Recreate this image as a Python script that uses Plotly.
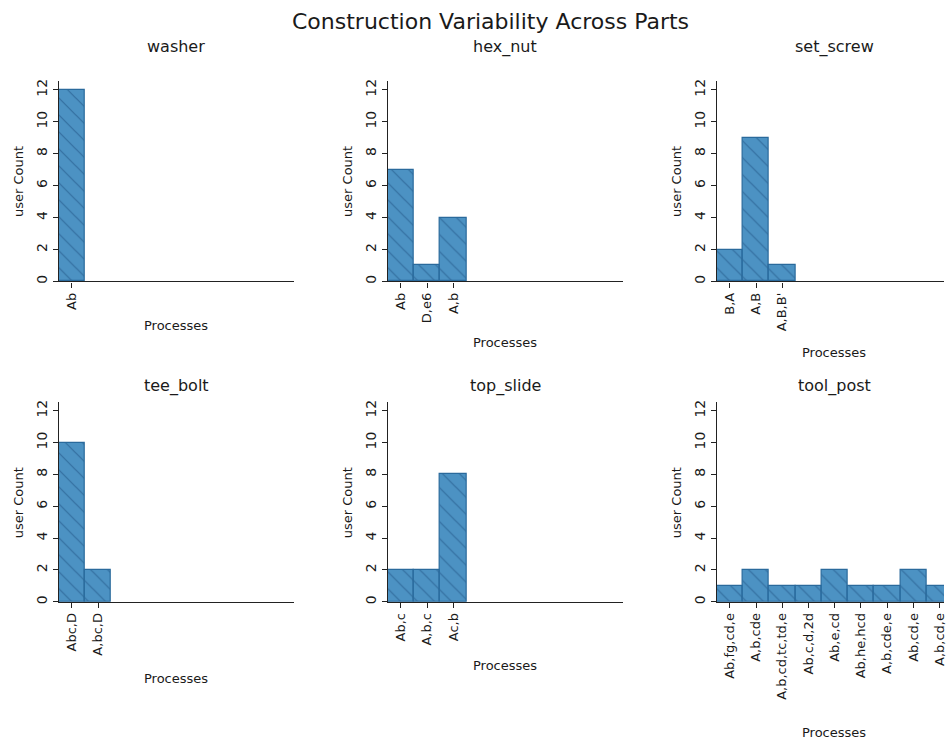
import plotly.graph_objects as go

W, H = 947, 744

parts = ["washer", "hex_nut", "set_screw", "tee_bolt", "top_slide", "tool_post"]

washer_proc = ["Ab"]
washer_cnt = [12]
hex_nut_proc = ["Ab", "D,e6", "A,b"]
hex_nut_cnt = [7, 1, 4]
set_screw_proc = ["B,A", "A,B", "A,B,B'"]
set_screw_cnt = [2, 9, 1]
tee_bolt_proc = ["Abc,D", "A,bc,D"]
tee_bolt_cnt = [10, 2]
top_slide_proc = ["Ab,c", "A,b,c", "Ac,b"]
top_slide_cnt = [2, 2, 8]
tool_post_proc = ["Ab,fg,cd,e", "A,b,cde", "A,b,cd,tc,td,e", "Ab,c,d,2d", "Ab,e,cd",
                  "Ab,he,hcd", "A,b,cde,e", "Ab,cd,e", "A,b,cd,e"]
tool_post_cnt = [1, 2, 1, 1, 2, 1, 1, 2, 1]

y_ticks = [0, 2, 4, 6, 8, 10, 12]

data = [
    (washer_proc, washer_cnt), (hex_nut_proc, hex_nut_cnt), (set_screw_proc, set_screw_cnt),
    (tee_bolt_proc, tee_bolt_cnt), (top_slide_proc, top_slide_cnt), (tool_post_proc, tool_post_cnt),
]

FONT = "DejaVu Sans"
TXT = "#1a1a1a"

# pixel layout
col_x0 = [59, 389, 719]
col_x1 = [295, 625, 947]
row_y0 = [281, 603]        # zero baseline (px from top)
row_y12 = [88.3, 411]      # tick 12 position
ytop_val = 12.55
unit_x = 26.3              # px per category

fig = go.Figure()
layout = {}
annotations = []

xtitle_y = [325, 342, 352, 680, 667, 734]

for i, (name, (procs, cnts)) in enumerate(zip(parts, data)):
    r, c = divmod(i, 3)
    idx = "" if i == 0 else str(i + 1)
    xa, ya = "x" + idx, "y" + idx
    fig.add_trace(go.Bar(
        x=procs, y=cnts, xaxis=xa, yaxis=ya, width=1.0,
        marker=dict(
            color="rgba(31,119,180,0.80)",
            line=dict(color="#2a6a9c", width=1.2),
            pattern=dict(shape="\\", fgcolor="#2d6798", fgopacity=0.85,
                         bgcolor="rgba(31,119,180,0.80)", size=12, solidity=0.1),
        ),
        showlegend=False, hoverinfo="x+y",
    ))
    x0, x1 = col_x0[c], col_x1[c]
    y0 = row_y0[r]
    unit_px = (y0 - row_y12[r]) / 12.0
    ytop = y0 - ytop_val * unit_px
    xmax = -0.5 + (x1 - x0) / unit_x
    layout["xaxis" + idx] = dict(
        domain=[x0 / W, x1 / W], anchor=ya, type="category",
        range=[-0.5, xmax], showline=True, linecolor="#222", linewidth=1.2,
        ticks="outside", ticklen=5, tickcolor="#222", tickangle=-90,
        tickfont=dict(family=FONT, size=13, color=TXT), showgrid=False,
        zeroline=False, fixedrange=True,
    )
    layout["yaxis" + idx] = dict(
        domain=[1 - y0 / H, 1 - ytop / H], anchor=xa, range=[0, ytop_val],
        tickvals=y_ticks, showline=True, linecolor="#222", linewidth=1.2,
        ticks="outside", ticklen=5, tickcolor="#222", tickangle=-90,
        tickfont=dict(family=FONT, size=14, color=TXT), showgrid=False,
        zeroline=False, fixedrange=True,
    )
    cx = x0 + 118
    # subplot title
    annotations.append(dict(text=name, x=cx / W, y=1 - (45 if r == 0 else 386) / H,
                            xref="paper", yref="paper", showarrow=False,
                            xanchor="center", yanchor="middle",
                            font=dict(family=FONT, size=16, color=TXT)))
    # x title
    annotations.append(dict(text="Processes", x=cx / W, y=1 - xtitle_y[i] / H,
                            xref="paper", yref="paper", showarrow=False,
                            xanchor="center", yanchor="middle",
                            font=dict(family=FONT, size=13, color=TXT)))
    # y title
    annotations.append(dict(text="user Count", x=(x0 - 41) / W, y=1 - (180 if r == 0 else 503) / H,
                            xref="paper", yref="paper", showarrow=False, textangle=-90,
                            xanchor="center", yanchor="middle",
                            font=dict(family=FONT, size=13, color=TXT)))

annotations.append(dict(text="Construction Variability Across Parts", x=492 / W, y=1 - 20 / H,
                        xref="paper", yref="paper", showarrow=False,
                        xanchor="center", yanchor="middle",
                        font=dict(family=FONT, size=22, color=TXT)))

fig.update_layout(
    width=W, height=H, margin=dict(l=0, r=0, t=0, b=0),
    paper_bgcolor="white", plot_bgcolor="white", bargap=0,
    annotations=annotations, **layout,
)

fig.write_html("out.html")
